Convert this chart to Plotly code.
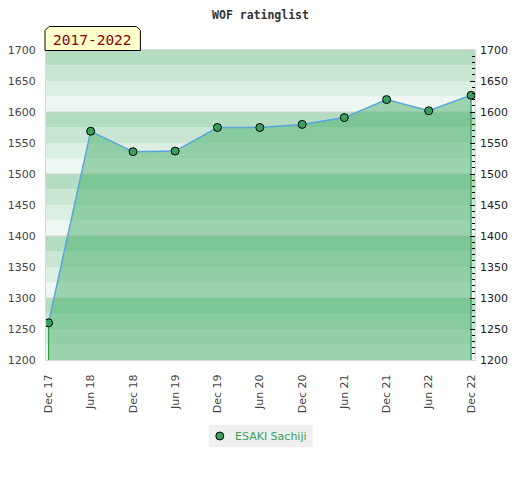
import plotly.graph_objects as go

# rating history (one point every six months)
dates = ["2017-12-01", "2018-06-01", "2018-12-01", "2019-06-01", "2019-12-01", "2020-06-01",
         "2020-12-01", "2021-06-01", "2021-12-01", "2022-06-01", "2022-12-01"]
ratings = [1260, 1569, 1536, 1537, 1575, 1575, 1580, 1591, 1620, 1602, 1627]
player = "ESAKI Sachiji"
period = "2017-2022"

y_min, y_max = 1200, 1700
band_colors = ["#b3dcc1", "#c8e6d2", "#dcefe3", "#eff7f2"]  # top -> bottom inside each 100 block
green = "#3aa05e"

# the page body adds an 8px margin, so the figure is drawn 8px smaller
OFF = 8
W, H = 520 - OFF, 480 - OFF
L, T = 46 - OFF, 50 - OFF
R, B = W - (475.5 - OFF), H - (360 - OFF)
pw, ph = W - L - R, H - T - B


def px(x):
    # page pixel -> paper x
    return (x - OFF - L) / pw


def py(y):
    # page pixel -> paper y
    return (H - B - (y - OFF)) / ph


fig = go.Figure()

# area under the rating line
fig.add_trace(go.Scatter(x=dates, y=ratings, mode="lines", fill="tozeroy",
                         fillcolor="rgba(69,175,106,0.5)", line=dict(width=0),
                         showlegend=False, hoverinfo="skip"))

# vertical edges of the area
fig.add_trace(go.Scatter(x=[dates[0], dates[0], None, dates[-1], dates[-1]],
                         y=[y_min, ratings[0], None, ratings[-1], y_min],
                         mode="lines", line=dict(color="#2e9b4f", width=1.2),
                         showlegend=False, hoverinfo="skip"))

fig.add_trace(go.Scatter(x=dates, y=ratings, mode="lines",
                         line=dict(color="#5aa5dc", width=1.5),
                         showlegend=False, hoverinfo="skip"))

fig.add_trace(go.Scatter(x=dates, y=ratings, mode="markers", name=player, showlegend=False,
                         marker=dict(size=8, color=green, line=dict(color="black", width=1))))

# dummy trace so the right axis is drawn
fig.add_trace(go.Scatter(x=[dates[0]], y=[ratings[0]], yaxis="y2", mode="markers",
                         marker=dict(opacity=0), showlegend=False, hoverinfo="skip"))

# striped background
for lo in range(y_min, y_max, 25):
    idx = 3 - ((lo % 100) // 25)
    fig.add_shape(type="rect", xref="paper", yref="y", x0=0, x1=1, y0=lo, y1=lo + 25,
                  fillcolor=band_colors[idx], line=dict(width=0), layer="below")

# gridlines every 100, over the stripes
for v in range(y_min + 100, y_max, 100):
    fig.add_shape(type="line", xref="paper", yref="y", x0=0, x1=1, y0=v, y1=v,
                  line=dict(color="#d4d4d4", width=1), layer="below")

# period tag with clipped top corners
x0, x1, y0, y1, c = 45, 140.5, 50.5, 26.5, 4
fig.add_shape(type="path", xref="paper", yref="paper",
              path=f"M {px(x0)},{py(y0)} L {px(x0)},{py(y1 + c)} L {px(x0 + c)},{py(y1)} "
                   f"L {px(x1 - c)},{py(y1)} L {px(x1)},{py(y1 + c)} L {px(x1)},{py(y0)} Z",
              fillcolor="#ffffcc", line=dict(color="black", width=1), layer="above")
fig.add_annotation(text=period, xref="paper", yref="paper", x=px((x0 + x1) / 2), y=py(40.5),
                   xanchor="center", yanchor="middle", showarrow=False,
                   font=dict(family="DejaVu Sans Mono", size=14.5, color="#8b0000"))

# legend box below the dates
fig.add_shape(type="rect", xref="paper", yref="paper", x0=px(209), x1=px(313), y0=py(447), y1=py(425),
              fillcolor="#f0f0f0", line=dict(width=0))
fig.add_shape(type="circle", xref="paper", yref="paper", x0=px(216), x1=px(224), y0=py(440), y1=py(432),
              fillcolor=green, line=dict(color="black", width=1))
fig.add_annotation(text=player, xref="paper", yref="paper", x=px(233), y=py(436),
                   xanchor="left", yanchor="middle", showarrow=False,
                   font=dict(size=11, color=green))

fig.update_layout(
    width=W, height=H,
    margin=dict(l=L, r=R, t=T, b=B, autoexpand=False),
    paper_bgcolor="white",
    plot_bgcolor="white",
    font=dict(family="DejaVu Sans", size=11, color="#444"),
    title=dict(text="<b>WOF ratinglist</b>", x=0.5, xanchor="center", xref="paper",
               y=1 - (14.5 - OFF) / H, yanchor="middle",
               font=dict(family="DejaVu Sans Mono", size=11.5, color="#333")),
    xaxis=dict(type="date", range=["2017-11-20", "2022-12-18"], tick0="2017-12-01", dtick="M6",
               tickformat="%b %y", tickangle=-90, ticks="outside", ticklen=9,
               tickcolor="rgba(0,0,0,0)", showgrid=False, showline=True, linecolor="#d9d9d9",
               mirror=True, zeroline=False, automargin=False,
               tickfont=dict(size=11, color="#444")),
    yaxis=dict(range=[y_min, y_max], dtick=50, ticks="outside", ticklen=7,
               tickcolor="rgba(0,0,0,0)", showgrid=False, showline=True, linecolor="#d9d9d9",
               mirror=True, zeroline=False, automargin=False,
               tickfont=dict(size=11, color="#444")),
    yaxis2=dict(range=[y_min, y_max], overlaying="y", side="right", dtick=50,
                ticks="inside", ticklen=5, tickcolor="black", tickwidth=1,
                minor=dict(dtick=10, ticks="inside", ticklen=3, tickcolor="black"),
                showgrid=False, showline=False, zeroline=False, automargin=False,
                ticklabelstandoff=4, tickfont=dict(size=11, color="#222")),
    showlegend=False,
)

fig.write_html("out.html")
